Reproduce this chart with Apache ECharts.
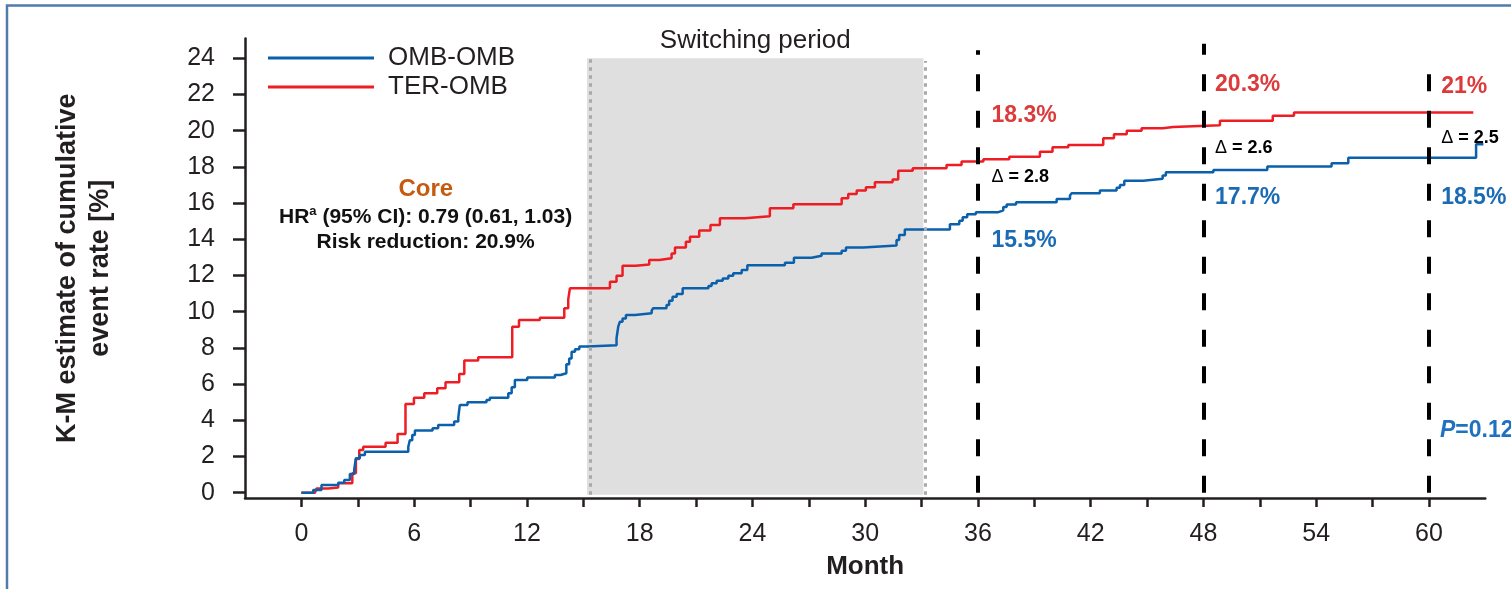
<!DOCTYPE html>
<html>
<head>
<meta charset="utf-8">
<script src="https://cdn.jsdelivr.net/npm/echarts@6/dist/echarts.min.js"></script>
<style>
  html, body { margin: 0; padding: 0; background: #fff; }
  #chart { width: 1511px; height: 589px; }
</style>
</head>
<body>
<div id="chart"></div>
<script>
// Kaplan-Meier cumulative event rate (%) by month, step points (value holds from each month onward)
const ombMonths = [0, 0.63, 1.07, 1.96, 2.28, 2.58, 2.81, 2.90, 3.11, 3.38,
  5.69, 5.77, 5.90, 6.04, 6.98, 7.28, 8.13, 8.35, 8.43, 8.84,
  9.85, 10.03, 11.01, 11.19, 11.36, 12.02, 13.49, 13.79, 14.10, 14.25,
  14.38, 14.56, 14.79, 15.20, 16.77, 16.86, 16.95, 17.09, 17.27, 17.75,
  18.64, 18.72, 19.43, 19.57, 19.75, 19.97, 20.29, 21.66, 21.83, 22.10,
  22.42, 22.72, 22.98, 23.43, 23.73, 25.73, 26.21, 27.15, 27.68, 28.75,
  28.98, 29.90, 31.67, 31.81, 32.11, 34.51, 35.01, 35.19, 35.43, 35.89,
  37.09, 37.35, 37.53, 38.03, 40.19, 40.90, 40.99, 42.49, 43.38, 43.56,
  43.79, 44.80, 45.83, 46.00, 48.53, 51.40, 54.82, 55.71, 62.51, 62.90];
const ombRates = [0, 0.15, 0.43, 0.55, 0.70, 1.03, 1.25, 1.90, 2.08, 2.26,
  2.54, 2.90, 3.18, 3.43, 3.56, 3.74, 3.93, 4.15, 4.84, 4.99,
  5.12, 5.25, 5.49, 5.82, 6.23, 6.36, 6.50, 6.60, 7.10, 7.42,
  7.79, 7.92, 8.07, 8.14, 8.53, 9.17, 9.45, 9.63, 9.82, 9.91,
  10.06, 10.19, 10.37, 10.61, 10.83, 10.98, 11.29, 11.42, 11.57, 11.71,
  11.84, 11.99, 12.12, 12.30, 12.56, 12.70, 12.98, 13.09, 13.22, 13.37,
  13.55, 13.66, 13.96, 14.24, 14.54, 14.83, 15.02, 15.22, 15.38, 15.50,
  15.60, 15.78, 15.92, 16.05, 16.23, 16.42, 16.55, 16.70, 16.85, 17.00,
  17.24, 17.34, 17.52, 17.70, 17.83, 18.02, 18.20, 18.50, 19.25, 19.25];

const terMonths = [0, 0.72, 0.81, 1.43, 1.96, 2.71, 2.90, 3.08, 3.29, 4.48,
  5.12, 5.54, 5.99, 6.54, 7.23, 7.67, 8.40, 8.67, 9.41, 11.22,
  11.58, 12.69, 13.99, 14.20, 14.29, 16.42, 16.77, 17.09, 17.80, 18.51,
  19.04, 19.70, 19.88, 20.46, 20.68, 21.17, 21.77, 22.27, 23.60, 24.93,
  26.18, 28.75, 29.10, 29.55, 30.04, 30.52, 31.46, 31.76, 32.53, 34.33,
  35.13, 36.29, 37.67, 39.30, 39.97, 40.81, 42.67, 43.24, 43.92, 44.71,
  45.83, 46.39, 48.88, 51.69, 52.82, 62.36];
const terRates = [0, 0.10, 0.23, 0.29, 0.52, 1.07, 1.86, 2.36, 2.54, 2.76,
  3.24, 4.90, 5.25, 5.49, 5.77, 6.10, 6.56, 7.30, 7.48, 9.17,
  9.54, 9.67, 10.19, 10.68, 11.29, 11.65, 11.99, 12.54, 12.61, 12.85,
  12.95, 13.22, 13.55, 13.87, 14.14, 14.48, 14.79, 15.16, 15.27, 15.71,
  15.93, 16.27, 16.50, 16.69, 16.87, 17.15, 17.31, 17.79, 17.92, 18.10,
  18.30, 18.42, 18.56, 18.84, 19.08, 19.21, 19.58, 19.80, 20.00, 20.13,
  20.20, 20.30, 20.55, 20.82, 21.00, 21.00];

const seriesNames = ['OMB-OMB', 'TER-OMB'];
const monthTicks = [0, 3, 6, 9, 12, 15, 18, 21, 24, 27, 30, 33, 36, 39, 42, 45, 48, 51, 54, 57, 60];
const monthLabels = [0, 6, 12, 18, 24, 30, 36, 42, 48, 54, 60];
const rateLabels = [0, 2, 4, 6, 8, 10, 12, 14, 16, 18, 20, 22, 24];
const landmarkMonths = [36, 48, 60];
const switchingPeriod = [15.39, 33.22];
const hrText = '0.79 (0.61, 1.03)';
const riskReduction = '20.9%';
const pValue = '0.12';

const FONT = '"Liberation Sans", Arial, Helvetica, sans-serif';
const INK = '#231f20';
const BLUE = '#0b60ac';
const RED = '#ee1d24';
const BLUE_TXT = '#1a6bb4';
const RED_TXT = '#dc3a3b';

const zip = (xs, ys) => xs.map((x, i) => [x, ys[i]]);
// KM value at a given month (last step at or before it)
function rateAt(months, rates, m) {
  let v = rates[0];
  for (let i = 0; i < months.length; i++) { if (months[i] <= m) v = rates[i]; }
  return v;
}
const pct = v => (Math.round(v * 10) / 10).toFixed(1).replace(/\.0$/, '') + '%';

// annotation placement per landmark: [x offset, red label y, delta y, blue label y, line top]
const landmarkPlacement = {
  36: [0.72, 20.83, 17.44, 13.91, 24.45],
  48: [0.62, 22.52, 19.04, 16.28, 24.8],
  60: [0.65, 22.43, 19.62, 16.28, 24.0]
};

const labelPoints = [];
const landmarkLines = [];
landmarkMonths.forEach(m => {
  const [dx, yr, yd, yb, top] = landmarkPlacement[m];
  const r = rateAt(terMonths, terRates, m);
  const b = rateAt(ombMonths, ombRates, m);
  labelPoints.push({ coord: [m + dx, yr], label: { formatter: pct(r), color: RED_TXT, fontSize: 23, fontWeight: 'bold' } });
  labelPoints.push({ coord: [m + dx, yd], label: { formatter: '{d|\u0394}{v| = ' + (r - b).toFixed(1) + '}' } });
  labelPoints.push({ coord: [m + dx, yb], label: { formatter: pct(b), color: BLUE_TXT, fontSize: 23, fontWeight: 'bold' } });
  landmarkLines.push([{ coord: [m, 0] }, { coord: [m, top] }]);
});
labelPoints.push({ coord: [60.59, 3.41], label: { formatter: '{i|P}{pv|=' + pValue + '}' } });
labelPoints.push({ coord: [6.62, 16.78], label: { position: 'inside', formatter: 'Core', color: '#c55a11', fontSize: 24, fontWeight: 'bold' } });
labelPoints.push({ coord: [6.61, 14.54], label: { position: 'inside', formatter: '{b|HR}{s|a}{b| (95% CI): ' + hrText + '}\n{b|Risk reduction: ' + riskReduction + '}' } });

const chart = echarts.init(document.getElementById('chart'));
chart.setOption({
  animation: false,
  backgroundColor: '#fff',
  textStyle: { fontFamily: FONT },
  grid: { left: 245, right: 25.7, top: 38.4, bottom: 90.9, containLabel: false },
  legend: {
    data: seriesNames,
    orient: 'vertical',
    left: 268, top: 45, padding: 0,
    itemWidth: 106, itemHeight: 3, itemGap: 3,
    icon: 'rect',
    textStyle: { fontSize: 26, color: INK, fontFamily: FONT, padding: [0, 0, 0, 9] }
  },
  xAxis: {
    type: 'value', min: -3, max: 63,
    name: 'Month', nameLocation: 'middle', nameGap: 56,
    nameTextStyle: { fontSize: 26, fontWeight: 'bold', color: INK, fontFamily: FONT },
    axisLine: { onZero: false, lineStyle: { color: INK, width: 2.5 } },
    axisTick: { customValues: monthTicks, length: 9, lineStyle: { color: INK, width: 2.5 } },
    axisLabel: { customValues: monthLabels, margin: 24, fontSize: 25, color: INK, fontFamily: FONT },
    splitLine: { show: false }
  },
  yAxis: {
    type: 'value', min: -0.3, max: 25.1,
    name: 'K-M estimate of cumulative\nevent rate [%]', nameLocation: 'middle', nameGap: 128, nameRotate: 90,
    nameTextStyle: { fontSize: 27, fontWeight: 'bold', color: INK, lineHeight: 33, fontFamily: FONT },
    axisLine: { onZero: false, lineStyle: { color: INK, width: 2.5 } },
    axisTick: { customValues: rateLabels, length: 12, lineStyle: { color: INK, width: 2.5 } },
    axisLabel: { customValues: rateLabels, margin: 30, fontSize: 25, color: INK, fontFamily: FONT },
    splitLine: { show: false }
  },
  graphic: [{
    type: 'polyline', silent: true, z: 100,
    shape: { points: [[7, 589], [7, 5.5], [1511, 5.5]] },
    style: { stroke: '#4f7cab', lineWidth: 2.5, fill: null }
  }],
  series: [
    {
      // switching period band and its dotted borders
      type: 'line', data: [], z: 1, silent: true,
      markArea: {
        silent: true,
        itemStyle: { color: '#dfdfdf' },
        label: { show: true, position: 'top', distance: 4, formatter: 'Switching period', fontSize: 26, color: INK, fontFamily: FONT },
        data: [[{ coord: [switchingPeriod[0] - 0.19, -0.12] }, { coord: [switchingPeriod[1] - 0.12, 24] }]]
      },
      markLine: {
        silent: true, symbol: ['none', 'none'], label: { show: false },
        lineStyle: { color: '#a9a9a9', width: 3, type: [3.5, 4.5] },
        data: [
          [{ coord: [switchingPeriod[0], -0.12] }, { coord: [switchingPeriod[0], 24] }],
          [{ coord: [switchingPeriod[1], -0.12] }, { coord: [switchingPeriod[1], 23.85] }]
        ]
      }
    },
    {
      name: 'TER-OMB', type: 'line', step: 'end', z: 3,
      data: zip(terMonths, terRates),
      symbol: 'none', showSymbol: false,
      lineStyle: { color: RED, width: 2.5 }, itemStyle: { color: RED }
    },
    {
      name: 'OMB-OMB', type: 'line', step: 'end', z: 4,
      data: zip(ombMonths, ombRates),
      symbol: 'none', showSymbol: false,
      lineStyle: { color: BLUE, width: 2.5 }, itemStyle: { color: BLUE }
    },
    {
      // landmark lines and annotations
      type: 'line', data: [], z: 6, silent: true,
      markLine: {
        silent: true, symbol: ['none', 'none'], label: { show: false },
        lineStyle: { color: '#000', width: 4, type: [17, 19.5] },
        data: landmarkLines
      },
      markPoint: {
        silent: true, symbol: 'circle', symbolSize: 0,
        itemStyle: { color: 'rgba(0,0,0,0)' },
        label: {
          show: true, position: 'right', distance: 0, fontFamily: FONT,
          rich: {
            d: { fontSize: 18, color: '#000', fontFamily: FONT },
            v: { fontSize: 18, fontWeight: 'bold', color: '#000', fontFamily: FONT },
            i: { fontSize: 23, fontWeight: 'bold', fontStyle: 'italic', color: '#1f72c0', fontFamily: FONT },
            pv: { fontSize: 23, fontWeight: 'bold', color: '#1f72c0', fontFamily: FONT },
            b: { fontSize: 21, fontWeight: 'bold', color: '#111', lineHeight: 25, fontFamily: FONT },
            s: { fontSize: 13, fontWeight: 'bold', color: '#111', lineHeight: 14, verticalAlign: 'top', fontFamily: FONT }
          }
        },
        data: labelPoints
      }
    }
  ]
});
</script>
</body>
</html>
